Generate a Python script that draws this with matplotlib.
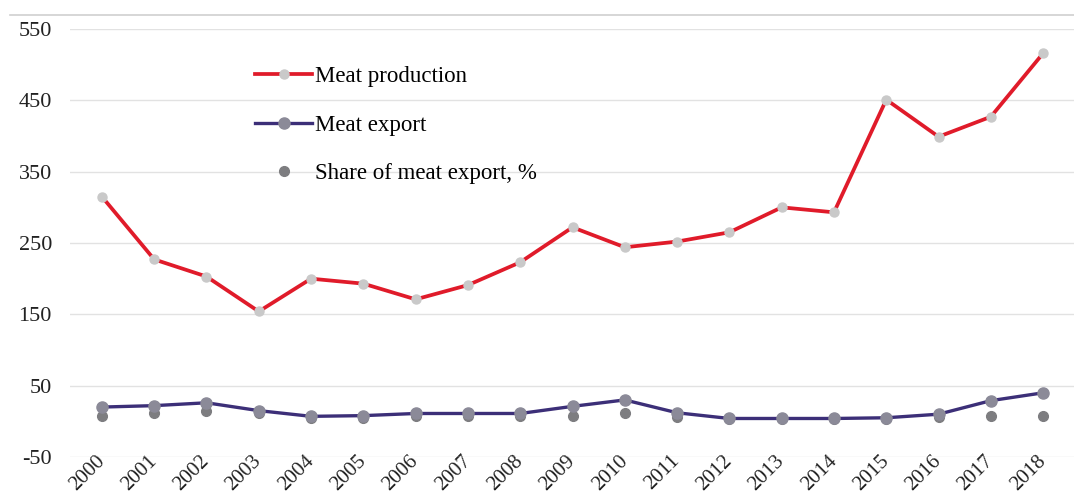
import numpy as np
import matplotlib
matplotlib.use("Agg")
import matplotlib.pyplot as plt
from matplotlib.lines import Line2D

plt.rcParams["font.family"] = ["Liberation Serif", "DejaVu Serif"]

years = [str(y) for y in range(2000, 2019)]
meat_production = [315, 227, 203, 154, 200, 193, 171, 191, 223, 272,
                   244, 252, 265, 300, 293, 451, 399, 427, 516]
meat_export = [20, 22, 26, 15, 7, 8, 11, 11, 11, 21,
               30, 12, 4, 4, 4, 5, 10, 29, 40]
share_export = [7, 11, 14, 11, 5, 5, 8, 8, 7, 8,
                12, 6, 3, 3, 3, 3, 6, 7, 8]
y_ticks = [-50, 50, 150, 250, 350, 450, 550]

fig = plt.figure(figsize=(10.74, 4.98), dpi=100)
ax = fig.add_axes([70 / 1074, 41 / 498, 1 - 70 / 1074, 428 / 498])

x = np.arange(len(years))

ax.plot(x, share_export, linestyle="none", marker="o", markersize=7,
        color="#7d7d80", zorder=3, label="Share of meat export, %")
ax.plot(x, meat_export, color="#3c2f78", linewidth=2.4, marker="o",
        markersize=8, markerfacecolor="#8b8a98", markeredgecolor="#8b8a98",
        zorder=4, label="Meat export")
ax.plot(x, meat_production, color="#e01b2a", linewidth=2.7, marker="o",
        markersize=6.5, markerfacecolor="#c9c9c9", markeredgecolor="#c9c9c9",
        zorder=5, label="Meat production")

ax.set_xlim(-0.61, 18.59)
ax.set_ylim(-50, 550)
ax.set_yticks(y_ticks)
ax.set_yticklabels([str(v) for v in y_ticks], fontsize=16)
ax.set_xticks(x)
ax.set_xticklabels(years, fontsize=15, rotation=45, ha="right",
                   va="center", rotation_mode="anchor")
ax.tick_params(axis="y", length=0, pad=13, colors="#222222")
ax.tick_params(axis="x", length=0, pad=1, colors="#222222")
ax.grid(axis="y", color="#e2e2e2", linewidth=1)
ax.set_axisbelow(True)
for s in ax.spines.values():
    s.set_visible(False)

handles, labels = ax.get_legend_handles_labels()
order = [2, 1, 0]
ax.legend([handles[i] for i in order], [labels[i] for i in order],
          loc="upper left", bbox_to_anchor=(255 / 1074, 1 - 66 / 498),
          bbox_transform=fig.transFigure, frameon=False, fontsize=16.5,
          handlelength=2.5, handletextpad=0.1, labelspacing=1.2,
          borderpad=0, borderaxespad=0)

fig.add_artist(Line2D([10 / 1074, 1], [1 - 15 / 498, 1 - 15 / 498],
                      color="#d0d0d0", linewidth=1.2,
                      transform=fig.transFigure))

fig.savefig("out.png", dpi=100)
